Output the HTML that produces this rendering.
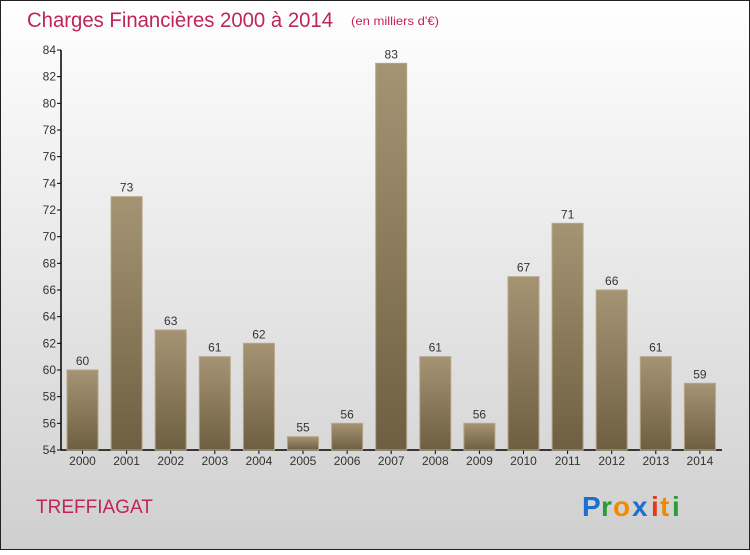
<!DOCTYPE html>
<html><head><meta charset="utf-8">
<style>
html,body{margin:0;padding:0}
body{width:750px;height:550px;overflow:hidden;font-family:"Liberation Sans",sans-serif}
</style></head>
<body>
<svg width="750" height="550" viewBox="0 0 750 550">
<defs>
<linearGradient id="bg" x1="0" y1="0" x2="0" y2="1">
<stop offset="0" stop-color="#ffffff"/><stop offset="1" stop-color="#cfcfcf"/>
</linearGradient>
<linearGradient id="bar" x1="0" y1="0" x2="0" y2="1">
<stop offset="0" stop-color="#a59474"/><stop offset="1" stop-color="#6f5f42"/>
</linearGradient>
</defs>
<rect x="0.5" y="0.5" width="749" height="549" fill="url(#bg)" stroke="#222"/>
<text x="27" y="27" font-size="21" fill="#c0245a" textLength="306" lengthAdjust="spacingAndGlyphs">Charges Financières 2000 à 2014</text>
<text x="351" y="25" font-size="12" fill="#c0245a" textLength="88" lengthAdjust="spacingAndGlyphs">(en milliers d'€)</text>
<text x="36" y="513" font-size="19" fill="#c0245a">TREFFIAGAT</text>
<g font-size="28" font-weight="bold">
<text x="582" y="516" fill="#1a6fcf">P</text><text x="601" y="516" fill="#2e9a3a">r</text><text x="613" y="516" fill="#f28a00">o</text><text x="632" y="516" fill="#1a6fcf">x</text><text x="651" y="516" fill="#e23a1a">i</text><text x="660" y="516" fill="#f28a00">t</text><text x="672" y="516" fill="#2e9a3a">i</text>
</g>
<g id="axes"></g>
<g id="bars"></g>
</svg>
<script>
const years=["2000","2001","2002","2003","2004","2005","2006","2007","2008","2009","2010","2011","2012","2013","2014"];
const values=[60,73,63,61,62,55,56,83,61,56,67,71,66,61,59];
const yTicks=[54,56,58,60,62,64,66,68,70,72,74,76,78,80,82,84];
const NS="http://www.w3.org/2000/svg";
const yMin=54,yMax=84,plotTop=50,plotBot=450,axisX=61,x0=82.5,step=44.1,bw=31;
const ys=v=>plotBot-(v-yMin)/(yMax-yMin)*(plotBot-plotTop);
const xs=i=>x0+i*step;
function mk(t,a,p){const e=document.createElementNS(NS,t);for(const k in a)e.setAttribute(k,a[k]);p.appendChild(e);return e;}
const ax=document.getElementById('axes'),bg=document.getElementById('bars');
const yl=mk('line',{x1:axisX,y1:plotTop,x2:axisX,y2:plotBot,stroke:'#000','stroke-width':1.5},ax);


const xl=mk('line',{x1:axisX,y1:plotBot,x2:722,y2:plotBot,stroke:'#000','stroke-width':1.5},ax);


yTicks.forEach(v=>{
 mk('line',{x1:axisX-4,y1:ys(v),x2:axisX,y2:ys(v),stroke:'#000'},ax);
 const t=mk('text',{x:axisX-5,y:ys(v)+4,'font-size':12,'text-anchor':'end',fill:'#333'},ax);
 t.textContent=v;
 
 
});
years.forEach((y,i)=>{
 const cx=xs(i),v=values[i];
 const r=mk('rect',{x:cx-bw/2,y:ys(v),width:bw,height:plotBot-ys(v),fill:'url(#bar)',stroke:'#b5a585','stroke-width':1},bg);
 
 
 const lt=mk('text',{x:cx,y:ys(v)-5,'font-size':12,'text-anchor':'middle',fill:'#333'},bg);
 lt.textContent=v;
 
 
 mk('line',{x1:cx,y1:plotBot,x2:cx,y2:plotBot+4,stroke:'#000'},ax);
 const xt=mk('text',{x:cx,y:plotBot+15,'font-size':12,'text-anchor':'middle',fill:'#333'},ax);
 xt.textContent=y;
 
 
});
</script>
</body></html>
